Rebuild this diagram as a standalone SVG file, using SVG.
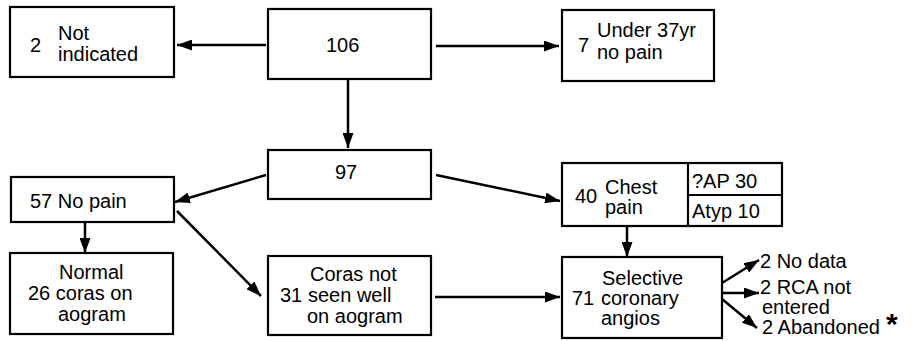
<svg xmlns="http://www.w3.org/2000/svg" width="916" height="341" viewBox="0 0 916 341">
<defs>
<style>
.box{fill:#fff;stroke:#000;stroke-width:2.2}
.t{font-family:"Liberation Sans",Arial,sans-serif;font-size:20px;fill:#000}
.c{stroke:#000;stroke-width:2.5;fill:none;marker-end:url(#ah)}
</style>
<marker id="ah" markerUnits="userSpaceOnUse" markerWidth="15" markerHeight="11" refX="15" refY="5.5" orient="auto">
<path d="M0,0 L15,5.5 L0,11 z" fill="#000"/>
</marker>
</defs>
<rect width="916" height="341" fill="#fff"/>
<g id="connectors">
<line class="c" x1="266" y1="45" x2="177" y2="45"/>
<line class="c" x1="436" y1="46" x2="559" y2="46"/>
<line class="c" x1="348" y1="79" x2="348" y2="148"/>
<line class="c" x1="266" y1="175" x2="175" y2="202"/>
<line class="c" x1="436" y1="175" x2="560" y2="201"/>
<line class="c" x1="85" y1="222" x2="85" y2="253"/>
<line class="c" x1="177" y1="211" x2="261" y2="296"/>
<line class="c" x1="627" y1="226" x2="627" y2="257"/>
<line class="c" x1="435" y1="297" x2="560" y2="297"/>
<line class="c" x1="722" y1="283" x2="759" y2="260"/>
<line class="c" x1="722" y1="293" x2="759" y2="293"/>
<line class="c" x1="722" y1="299" x2="757" y2="328"/>
</g>
<g id="n106">
<rect class="box" x="268" y="9" width="163" height="70"/>
<text class="t" x="326" y="52">106</text>
</g>
<g id="notIndicated">
<rect class="box" x="10" y="7" width="164" height="70"/>
<text class="t" x="30" y="52">2</text>
<text class="t" x="58" y="40">Not</text>
<text class="t" x="58" y="61">indicated</text>
</g>
<g id="under37">
<rect class="box" x="562" y="10" width="152" height="71"/>
<text class="t" x="578" y="52">7</text>
<text class="t" x="597" y="37">Under 37yr</text>
<text class="t" x="597" y="59">no pain</text>
</g>
<g id="n97">
<rect class="box" x="268" y="150" width="163" height="49"/>
<text class="t" x="335" y="179">97</text>
</g>
<g id="noPain">
<rect class="box" x="11" y="177" width="163" height="45"/>
<text class="t" x="30" y="208">57 No pain</text>
</g>
<g id="chestPain">
<rect class="box" x="562" y="163" width="220" height="63"/>
<line x1="688" y1="163" x2="688" y2="226" stroke="#000" stroke-width="2.2"/>
<line x1="688" y1="195" x2="782" y2="195" stroke="#000" stroke-width="2.2"/>
<text class="t" x="575" y="203">40</text>
<text class="t" x="605" y="194">Chest</text>
<text class="t" x="605" y="214">pain</text>
<text class="t" x="692" y="188">?AP 30</text>
<text class="t" x="692" y="218">Atyp 10</text>
</g>
<g id="normal26">
<rect class="box" x="10" y="253" width="163" height="81"/>
<text class="t" x="59" y="279">Normal</text>
<text class="t" x="28" y="300">26 coras on</text>
<text class="t" x="58" y="321">aogram</text>
</g>
<g id="coras31">
<rect class="box" x="268" y="256" width="163" height="79"/>
<text class="t" x="310" y="281">Coras not</text>
<text class="t" x="280" y="302">31</text>
<text class="t" x="308" y="302">seen well</text>
<text class="t" x="307" y="323">on aogram</text>
</g>
<g id="selective71">
<rect class="box" x="562" y="257" width="160" height="81"/>
<text class="t" x="602" y="285">Selective</text>
<text class="t" x="572" y="305">71</text>
<text class="t" x="601" y="305">coronary</text>
<text class="t" x="601" y="325">angios</text>
</g>
<g id="outcomes">
<text class="t" x="760" y="268">2 No data</text>
<text class="t" x="760" y="294">2 RCA not</text>
<text class="t" x="762" y="314">entered</text>
<text class="t" x="762" y="334">2 Abandoned</text>
<text class="t" x="886" y="334" style="font-size:30px;font-weight:bold">*</text>
</g>
</svg>
